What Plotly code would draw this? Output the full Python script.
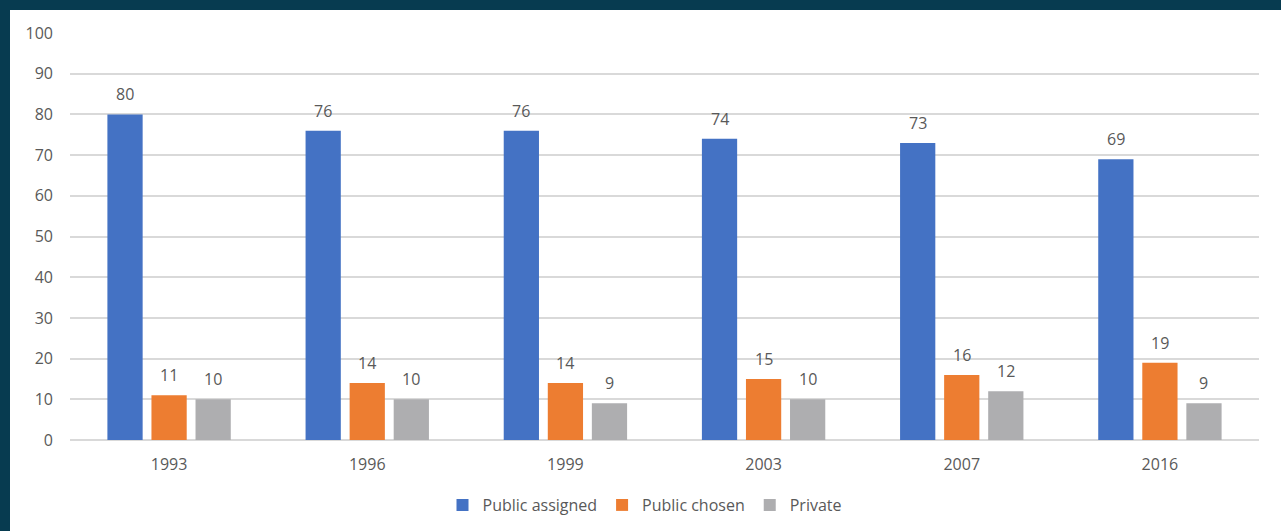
import plotly.graph_objects as go

years = ["1993", "1996", "1999", "2003", "2007", "2016"]
public_assigned = [80, 76, 76, 74, 73, 69]
public_chosen = [11, 14, 14, 15, 16, 19]
private = [10, 10, 9, 10, 12, 9]
series_names = ["Public assigned", "Public chosen", "Private"]
colors = ["#4472C4", "#ED7D31", "#AEAEB0"]
y_ticks = list(range(0, 101, 10))

FONT = "Open Sans"
GREY = "#595959"
FS = 16
BARGAP = 0.333

fig = go.Figure()
all_series = [public_assigned, public_chosen, private]
for name, vals, col in zip(series_names, all_series, colors):
    fig.add_trace(go.Bar(x=years, y=vals, name=name, marker=dict(color=col, line=dict(width=0))))

# data labels (category axis -> annotations use category index)
slot = (1 - BARGAP) / 3
for k, vals in enumerate(all_series):
    for i, v in enumerate(vals):
        fig.add_annotation(x=i + (k - 1) * slot, y=v, text=str(v), showarrow=False, yshift=7,
                           yanchor="bottom", font=dict(family=FONT, size=FS, color=GREY))

W, H = 1281, 531
L, R, T, B = 70, 22, 33, 91
pw, ph = W - L - R, H - T - B

def px(x):
    return (x - L) / pw

def py(y):
    return (H - B - y) / ph

border = "#073B50"
fig.add_shape(type="rect", xref="paper", yref="paper", x0=px(0), x1=px(W), y0=py(10), y1=py(0),
              fillcolor=border, line=dict(width=0), layer="above")
fig.add_shape(type="rect", xref="paper", yref="paper", x0=px(0), x1=px(10), y0=py(H), y1=py(0),
              fillcolor=border, line=dict(width=0), layer="above")

fig.update_layout(
    width=W, height=H,
    margin=dict(l=L, r=R, t=T, b=B, autoexpand=False),
    paper_bgcolor="white", plot_bgcolor="white",
    barmode="group", bargap=BARGAP, bargroupgap=0.2,
    font=dict(family=FONT, size=FS, color=GREY),
    showlegend=True,
    legend=dict(orientation="h", x=px(645), xanchor="center", y=py(505), yanchor="middle",
                font=dict(family=FONT, size=FS, color=GREY), itemwidth=30,
                traceorder="normal"),
    xaxis=dict(type="category", range=[-0.5, 5.5], showgrid=False, showline=False, ticks="",
               ticklabelstandoff=13, tickfont=dict(family=FONT, size=FS, color=GREY)),
    yaxis=dict(range=[0, 100], tickvals=y_ticks, showgrid=True, gridcolor="#D9D9D9", gridwidth=1.5,
               zeroline=True, zerolinecolor="#D9D9D9", zerolinewidth=1.5, showline=False,
               ticks="", ticklabelstandoff=16, tickfont=dict(family=FONT, size=FS, color=GREY)),
)

fig.write_html("out.html", config={"displayModeBar": False},
               post_script="document.body.style.margin='0';document.body.style.overflow='hidden';")
